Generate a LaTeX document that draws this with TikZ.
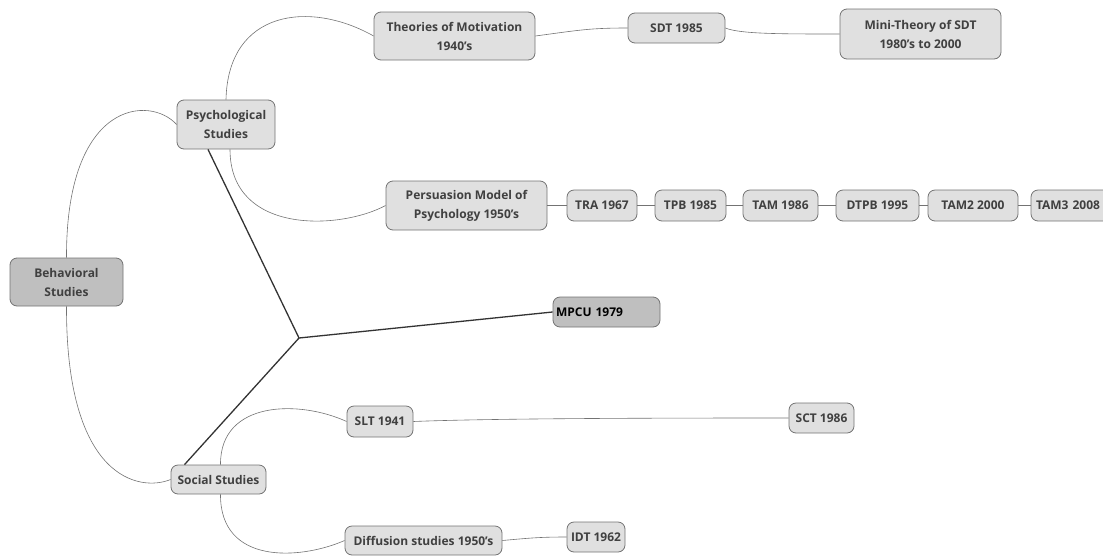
\documentclass[tikz,border=0pt]{standalone}
\usepackage{fontspec}
\setmainfont{Open Sans}
\begin{document}
\begin{tikzpicture}[x=1pt,y=-1pt,
  box/.style={draw=black!55,fill=black!12,rounded corners=7pt,line width=0.8pt,
    font=\bfseries\fontsize{12}{19}\selectfont,text=black!75,align=center,inner sep=0pt},
  darkbox/.style={box,fill=black!25},
  link/.style={draw=black!55,line width=0.6pt},
  thick link/.style={draw=black!80,line width=1.3pt}]
\useasboundingbox (0,0) rectangle (1103,555);
\node[darkbox,minimum width=113,minimum height=48] (beh) at (66.5,282) {Behavioral\\Studies};
\node[box,minimum width=98,minimum height=49] (psy) at (226,124.5) {Psychological\\Studies};
\node[box,minimum width=161,minimum height=48] (theo) at (454.5,36) {Theories of Motivation\\1940's};
\node[box,minimum width=97,minimum height=30] (sdt) at (676.5,28) {SDT 1985};
\node[box,minimum width=161,minimum height=50] (mini) at (920.5,34) {Mini-Theory of SDT\\1980's to 2000};
\node[box,minimum width=161,minimum height=49] (pers) at (466.5,205.5) {Persuasion Model of\\Psychology 1950's};
\node[box,minimum width=70,minimum height=31] (tra) at (602,205.5) {TRA 1967};
\node[box,minimum width=71,minimum height=31] (tpb) at (690.5,205.5) {TPB 1985};
\node[box,minimum width=75,minimum height=31] (tam) at (780.5,205.5) {TAM 1986};
\node[box,minimum width=83,minimum height=31] (dtpb) at (877.5,205.5) {DTPB 1995};
\node[box,minimum width=90,minimum height=31] (tam2) at (973,205.5) {TAM2 2000};
\node[box,minimum width=80,minimum height=31,text width=76,align=left] (tam3) at (1071,205.5) {\hspace*{3pt}TAM3 2008};
\node[darkbox,minimum width=107,minimum height=30,text=black,text width=101,align=left] (mpcu) at (606.5,312) {MPCU 1979};
\node[box,minimum width=95,minimum height=29] (soc) at (218.5,479.5) {Social Studies};
\node[box,minimum width=66,minimum height=31] (slt) at (380,421.5) {SLT 1941};
\node[box,minimum width=65,minimum height=30] (sct) at (821.5,418) {SCT 1986};
\node[box,minimum width=157,minimum height=29] (dif) at (423.5,540.5) {Diffusion studies 1950's};
\node[box,minimum width=58,minimum height=30] (idt) at (596,537) {IDT 1962};
\coordinate (hub) at (299,338);
% curves
\draw[link] (beh.north) .. controls (66,100) and (150,95) .. (psy.west);
\draw[link] (beh.south) .. controls (66,480) and (140,492) .. (soc.west);
\draw[link] (psy.north) .. controls (228,10) and (310,0) .. (theo.west);
\draw[link] ([xshift=4pt]psy.south) .. controls (230,235) and (340,230) .. (pers.west);
\draw[link] (theo.east) .. controls (580,30) and (590,28) .. (sdt.west);
\draw[link] (sdt.east) .. controls (740,34) and (780,34) .. (mini.west);
\draw[link] (pers.east) -- (tra.west);
\draw[link] (tra) -- (tpb);
\draw[link] (tpb) -- (tam);
\draw[link] (tam) -- (dtpb);
\draw[link] (dtpb) -- (tam2);
\draw[link] (tam2) -- (tam3);
\draw[link] ([xshift=2pt]soc.north) .. controls (220,400) and (300,400) .. (slt.west);
\draw[link] (slt.east) .. controls (500,418) and (700,418) .. (sct.west);
\draw[link] ([xshift=2pt]soc.south) .. controls (220,565) and (300,560) .. (dif.west);
\draw[link] (dif.east) .. controls (530,538) and (540,537) .. (idt.west);
% thick
\draw[thick link] (hub) -- ([xshift=-18pt]psy.south);
\draw[thick link] (hub) -- (mpcu.west);
\draw[thick link] (hub) -- ([xshift=-34pt]soc.north);
\end{tikzpicture}
\end{document}
